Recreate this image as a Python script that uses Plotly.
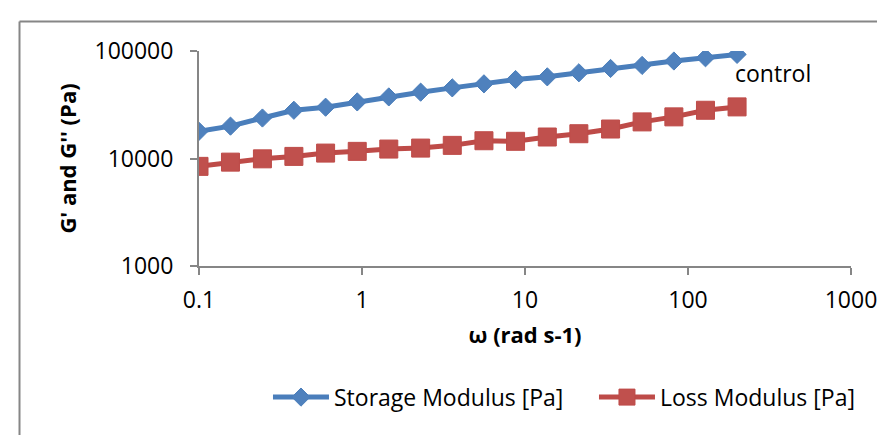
import plotly.graph_objects as go

# angular frequency (rad/s)
omega = [0.1, 0.156, 0.245, 0.382, 0.598, 0.935, 1.46, 2.29, 3.58, 5.6,
         8.75, 13.7, 21.4, 33.5, 52.3, 81.9, 128, 200]
# storage modulus G' (Pa)
g_storage = [17900, 20000, 23800, 28100, 30000, 33600, 37400, 41400, 45400, 49500,
             54300, 57500, 62700, 68800, 73400, 80700, 86500, 93000]
# loss modulus G'' (Pa)
g_loss = [8450, 9250, 9930, 10460, 11230, 11650, 12240, 12500, 13250, 14630,
          14450, 15850, 17000, 18800, 21900, 24400, 28100, 30200]

x_ticks = [0.1, 1, 10, 100, 1000]
x_tick_labels = ["0.1", "1", "10", "100", "1000"]
y_ticks = [1000, 10000, 100000]
y_tick_labels = ["1000", "10000", "100000"]

BLUE = "#4A7EBB"
RED = "#BE4B48"
AXIS = "#868686"
FONT = "Open Sans"
FS = 23

fig = go.Figure()
fig.add_trace(go.Scatter(
    x=omega, y=g_storage, mode="lines+markers", name="Storage Modulus [Pa]",
    line=dict(color=BLUE, width=5), legend="legend",
    marker=dict(symbol="diamond", size=14, color="#4F81BD", line=dict(color=BLUE, width=1)),
))
fig.add_trace(go.Scatter(
    x=omega, y=g_loss, mode="lines+markers", name="Loss Modulus [Pa]",
    line=dict(color=RED, width=5), legend="legend2",
    marker=dict(symbol="square", size=18, color="#C0504D", line=dict(color=RED, width=1)),
))

fig.add_annotation(
    text="control", x=2.301, y=0.899, xref="x", yref="paper",
    xanchor="left", yanchor="middle", showarrow=False, xshift=-4,
    font=dict(family=FONT, size=FS, color="#000000"),
)

# outer chart border (top and left edges visible)
fig.add_shape(type="line", xref="paper", yref="paper",
              x0=-0.2753, y0=1.1368, x1=1.07, y1=1.1368,
              line=dict(color=AXIS, width=2))
fig.add_shape(type="line", xref="paper", yref="paper",
              x0=-0.2753, y0=1.1368, x1=-0.2753, y1=-0.84,
              line=dict(color=AXIS, width=2))

legend_common = dict(
    orientation="h", xanchor="left", y=-0.61, yanchor="middle",
    font=dict(family=FONT, size=FS, color="#000000"),
    bgcolor="rgba(0,0,0,0)", itemwidth=56,
)

fig.update_layout(
    width=885, height=435,
    margin=dict(l=191, r=42, t=43, b=177),
    paper_bgcolor="white", plot_bgcolor="white",
    font=dict(family=FONT, size=FS, color="#000000"),
    showlegend=True,
    legend=dict(x=0.1058, **legend_common),
    legend2=dict(x=0.6058, **legend_common),
    xaxis=dict(
        type="log", range=[-1, 3],
        tickvals=x_ticks, ticktext=x_tick_labels,
        showline=True, linecolor=AXIS, linewidth=2,
        ticks="outside", ticklen=7, tickcolor=AXIS, tickwidth=2,
        showgrid=False, zeroline=False,
        ticklabelstandoff=5,
        title=dict(text="<b>ω (rad s-1)</b>", font=dict(family=FONT, size=22), standoff=14),
    ),
    yaxis=dict(
        type="log", range=[3, 5],
        tickvals=y_ticks, ticktext=y_tick_labels,
        showline=True, linecolor=AXIS, linewidth=2,
        ticks="outside", ticklen=7, tickcolor=AXIS, tickwidth=2,
        showgrid=False, zeroline=False,
        ticklabelstandoff=12,
        title=dict(text="<b>G' and G'' (Pa)</b>", font=dict(family=FONT, size=22), standoff=12),
    ),
)

fig.write_html("out.html")
